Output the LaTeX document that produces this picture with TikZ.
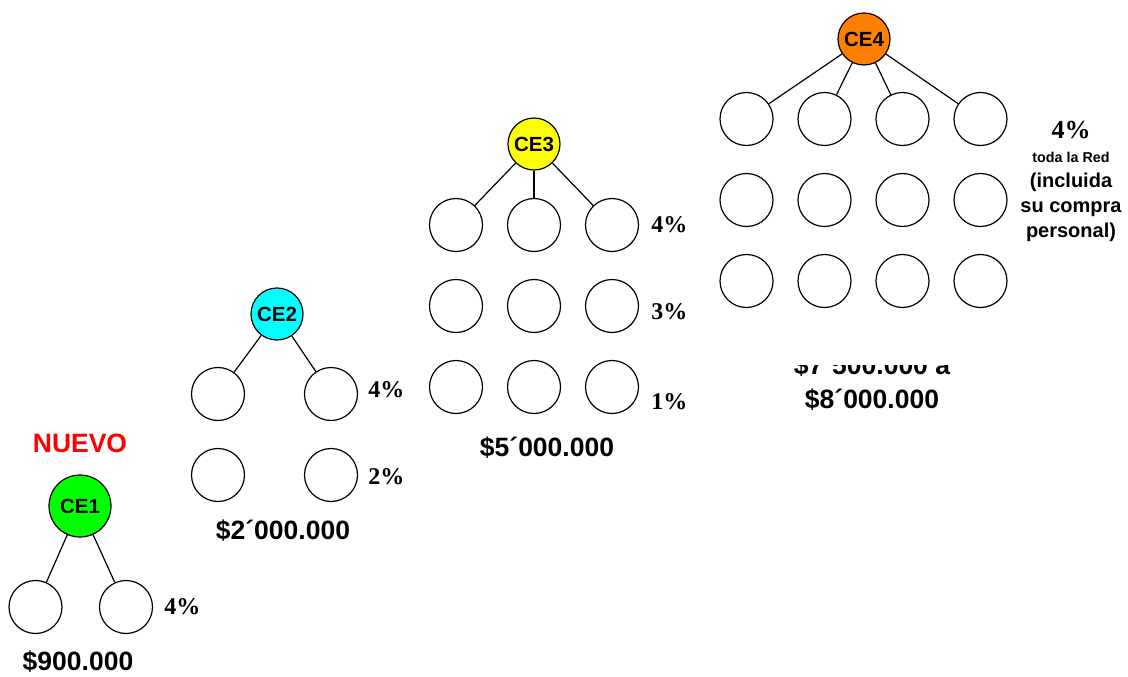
\documentclass[tikz,border=0pt]{standalone}
\usepackage{fontspec}
\setmainfont{Liberation Serif}
\setsansfont{Liberation Sans}
\usetikzlibrary{positioning}

\definecolor{ceverde}{RGB}{0,255,0}
\definecolor{cecian}{RGB}{0,255,255}
\definecolor{ceamarillo}{RGB}{255,255,0}
\definecolor{cenaranja}{RGB}{255,128,0}

\tikzset{
  socio/.style={circle,draw,line width=1.2pt,minimum size=53pt,inner sep=0pt},
  lider/.style={socio,minimum size=52pt,font=\sffamily\bfseries\fontsize{20.5}{22}\selectfont},
  rama/.style={line width=1.2pt},
  pct/.style={font=\rmfamily\bfseries\fontsize{24}{26}\selectfont,inner sep=0pt},
  monto/.style={font=\sffamily\bfseries\fontsize{26.5}{34}\selectfont,align=center,inner sep=0pt},
  nota/.style={font=\sffamily\bfseries\fontsize{20}{25}\selectfont,align=center,inner sep=0pt}
}

\begin{document}
\begin{tikzpicture}[x=1pt,y=-1pt]
\useasboundingbox (0,0) rectangle (1128,677);

% CE1
\node[monto,red] (nuevo) at (80,443) {NUEVO};
\node[lider,minimum size=62pt,fill=ceverde] (ce1) at (80,506) {CE1};
\node[socio] (ce1-1) at (35.5,607) {};
\node[socio] (ce1-2) at (126,607) {};
\draw[rama] (ce1) -- (ce1-1);
\draw[rama] (ce1) -- (ce1-2);
\node[pct,right=11pt of ce1-2] (p1) {4\%};
\node[monto] (m1) at (78,662) {\$900.000};

% CE2
\node[lider,fill=cecian] (ce2) at (277,314) {CE2};
\foreach \r in {1,2}
  \foreach \c in {1,2}
    \node[socio] (ce2-\r\c) at ({218+113*(\c-1)},{394+81*(\r-1)}) {};
\draw[rama] (ce2) -- (ce2-11);
\draw[rama] (ce2) -- (ce2-12);
\node[pct,right=10pt of ce2-12,yshift=4pt] (p2a) {4\%};
\node[pct,right=10pt of ce2-22,yshift=-2pt] (p2b) {2\%};
\node[monto] (m2) at (283,531) {\$2´000.000};

% CE3
\node[lider,fill=ceamarillo] (ce3) at (534,144) {CE3};
\foreach \r in {1,2,3}
  \foreach \c in {1,2,3}
    \node[socio] (ce3-\r\c) at ({456+78*(\c-1)},{225+81*(\r-1)}) {};
\draw[rama] (ce3) -- (ce3-11);
\draw[rama] (ce3) -- (ce3-12);
\draw[rama] (ce3) -- (ce3-13);
\node[pct,right=12pt of ce3-13] (p3a) {4\%};
\node[pct,right=12pt of ce3-23,yshift=-6pt] (p3b) {3\%};
\node[pct,right=12pt of ce3-33,yshift=-15pt] (p3c) {1\%};
\node[monto] (m3) at (547,448) {\$5´000.000};

% CE4
\node[lider,fill=cenaranja] (ce4) at (864,39) {CE4};
\foreach \r in {1,2,3}
  \foreach \c in {1,2,3,4}
    \node[socio] (ce4-\r\c) at ({746.5+78*(\c-1)},{119+81*(\r-1)}) {};
\foreach \c in {1,2,3,4}
  \draw[rama] (ce4) -- (ce4-1\c);
\node[pct,font=\rmfamily\bfseries\fontsize{26}{28}\selectfont] (p4) at (1071,130) {4\%};
\node[nota,font=\sffamily\bfseries\fontsize{14.3}{16}\selectfont] (red) at (1071,157) {toda la Red};
\node[nota,below=10pt of red] (incl) {(incluida\\su compra\\personal)};
\node[monto] (m4) at (872,383) {\$7´500.000 a\\\$8´000.000};
% tapa la parte alta de la primera linea
\fill[white] (780,330) rectangle (970,364.5);
\end{tikzpicture}
\end{document}
